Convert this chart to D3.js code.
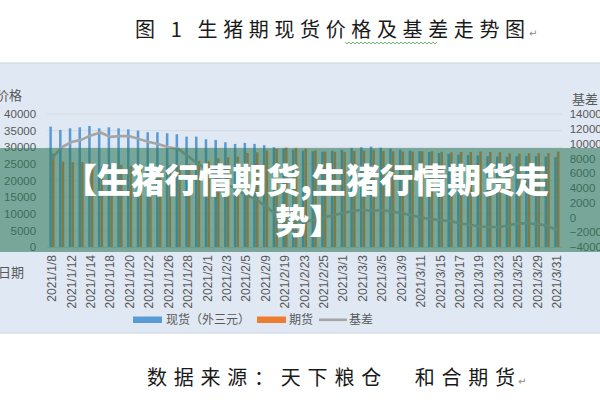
<!DOCTYPE html>
<html>
<head>
<meta charset="utf-8">
<script src="https://cdn.jsdelivr.net/npm/d3@7/dist/d3.min.js"></script>
<style>
  html, body { margin: 0; padding: 0; background: #ffffff; }
  svg { display: block; }
</style>
</head>
<body>
<svg id="chart" width="600" height="400"></svg>
<script>
// ---------- data ----------
const dates = ["2021/1/8","2021/1/11","2021/1/12","2021/1/13","2021/1/14","2021/1/15","2021/1/18","2021/1/19","2021/1/20","2021/1/21",
  "2021/1/22","2021/1/25","2021/1/26","2021/1/27","2021/1/28","2021/1/29","2021/2/1","2021/2/2","2021/2/3","2021/2/4",
  "2021/2/5","2021/2/8","2021/2/9","2021/2/18","2021/2/19","2021/2/22","2021/2/23","2021/2/24","2021/2/25","2021/2/26",
  "2021/3/1","2021/3/2","2021/3/3","2021/3/4","2021/3/5","2021/3/8","2021/3/9","2021/3/10","2021/3/11","2021/3/12",
  "2021/3/15","2021/3/16","2021/3/17","2021/3/18","2021/3/19","2021/3/22","2021/3/23","2021/3/24","2021/3/25","2021/3/26",
  "2021/3/29","2021/3/30","2021/3/31"];
const spot = [36200,35200,35700,36000,36400,35700,36000,35700,35400,35000,
  34500,34500,34200,33900,33200,33200,32400,32200,31500,31000,
  31300,31000,30600,30000,29700,29300,29000,28800,28700,28900,
  29200,29800,30000,30200,29900,29600,29300,29000,28800,28600,
  28300,28000,27800,27600,27500,27300,27200,27100,27300,27400,
  27300,27200,27000];
const futures = [28100,25700,25500,25500,25200,24200,25100,24700,24400,24400,
  24300,24600,24700,24600,24900,25900,25900,26700,27000,27200,
  28300,28500,29100,29500,29900,29800,29600,29100,28700,28600,
  28600,28900,29000,29300,28900,28800,28700,28700,28800,28800,
  28650,28500,28600,28600,28700,28600,28500,28200,28100,28200,
  28200,28300,28700];
const basis = [8000,9500,10200,10500,11100,11500,10900,11000,11000,10600,
  10200,9900,9500,9300,8300,7300,6500,5500,4500,3800,
  3000,2500,1500,500,-200,-500,-600,-300,0,300,
  600,900,1000,900,1000,800,600,300,0,-200,
  -350,-500,-800,-1000,-1200,-1300,-1300,-1100,-800,-800,
  -900,-1100,-1700];
const leftTicks = [0,5000,10000,15000,20000,25000,30000,35000,40000];
const rightTicks = [-4000,-2000,0,2000,4000,6000,8000,10000,12000,14000];
const seriesNames = ["现货（外三元）","期货","基差"];
const titleText = "图 1 生猪期现货价格及基差走势图";
const sourceText = "数据来源：天下粮仓　和合期货";
const bannerLines = ["【生猪行情期货,生猪行情期货走", "势】"];

// ---------- layout ----------
const svg = d3.select("#chart");
const colors = { spot: "#5b9bd5", fut: "#ed7d31", basis: "#a5a5a5", text: "#595959" };
const plot = { left: 47.1, right: 561.7, top: 114, bottom: 247 };

svg.append("rect").attr("x", 0).attr("y", 0).attr("width", 600).attr("height", 400).attr("fill", "#ffffff");
svg.append("rect").attr("x", -1).attr("y", 63).attr("width", 602).attr("height", 270)
  .attr("fill", "#dfe8f3").attr("stroke", "#c9d4e2").attr("stroke-width", 1);

const x = d3.scaleBand().domain(dates).range([plot.left, plot.right]).paddingInner(0).paddingOuter(0);
const yL = d3.scaleLinear().domain([0, 40000]).range([plot.bottom, plot.top]);
const yR = d3.scaleLinear().domain([-4000, 14000]).range([plot.bottom, plot.top]);
const sub = d3.scaleBand().domain(["spot","fut"]).range([-2.6, 2.6]).paddingInner(0.05);

// gridlines
svg.append("g").selectAll("line").data(leftTicks.slice(1)).join("line")
  .attr("x1", plot.left).attr("x2", plot.right)
  .attr("y1", d => yL(d)).attr("y2", d => yL(d))
  .attr("stroke", "#d6dbe2").attr("stroke-width", 1);

// left axis
const axL = svg.append("g").attr("transform", `translate(${plot.left - 8},0)`)
  .call(d3.axisLeft(yL).tickValues(leftTicks).tickSize(0).tickPadding(3).tickFormat(d3.format("d")));
axL.select(".domain").remove();
axL.selectAll("text").attr("fill", colors.text).attr("font-size", "11.5px").attr("font-family", "Liberation Sans, Arial, sans-serif");

// right axis
const axR = svg.append("g").attr("transform", `translate(${plot.right + 5},0)`)
  .call(d3.axisRight(yR).tickValues(rightTicks).tickSize(0).tickPadding(3).tickFormat(d3.format("d")));
axR.select(".domain").remove();
axR.selectAll("text").attr("fill", colors.text).attr("font-size", "11.5px").attr("font-family", "Liberation Sans, Arial, sans-serif");

// bars
const bars = svg.append("g");
bars.selectAll("rect.spot").data(dates).join("rect").attr("class", "spot")
  .attr("x", d => x(d) + x.bandwidth() / 2 + sub("spot"))
  .attr("width", sub.bandwidth())
  .attr("y", (d, i) => yL(spot[i]))
  .attr("height", (d, i) => yL(0) - yL(spot[i]))
  .attr("fill", colors.spot);
bars.selectAll("rect.fut").data(dates).join("rect").attr("class", "fut")
  .attr("x", d => x(d) + x.bandwidth() / 2 + sub("fut"))
  .attr("width", sub.bandwidth())
  .attr("y", (d, i) => yL(futures[i]))
  .attr("height", (d, i) => yL(0) - yL(futures[i]))
  .attr("fill", colors.fut);

svg.append("line").attr("x1", plot.left).attr("x2", plot.right)
  .attr("y1", yL(0) + 0.5).attr("y2", yL(0) + 0.5).attr("stroke", "#c8cdd4");

// basis line
const line = d3.line().x((d, i) => x(dates[i]) + x.bandwidth() / 2).y(d => yR(d));
svg.append("path").datum(basis).attr("d", line)
  .attr("fill", "none").attr("stroke", colors.basis).attr("stroke-width", 2.6).attr("stroke-linejoin", "round");

// x tick labels (every other category)
const axB = svg.append("g").attr("transform", `translate(0,${plot.bottom + 8})`)
  .call(d3.axisBottom(x).tickValues(dates.filter((d, i) => i % 2 === 0)).tickSize(0).tickPadding(0));
axB.select(".domain").remove();
axB.selectAll("text")
  .attr("transform", "rotate(-90)")
  .attr("text-anchor", "end").attr("dy", "0.35em").attr("dx", "0").attr("x", 0).attr("y", 0)
  .attr("fill", colors.text).attr("font-size", "12px").attr("font-family", "Liberation Sans, Arial, sans-serif");

// axis titles
const cjk = "'Noto Sans CJK SC', 'Noto Sans', sans-serif";
svg.append("text").attr("x", -4).attr("y", 100).text("价格")
  .attr("fill", colors.text).attr("font-size", "13px").attr("font-family", cjk);
svg.append("text").attr("x", 572).attr("y", 104).text("基差")
  .attr("fill", colors.text).attr("font-size", "13px").attr("font-family", cjk);
svg.append("text").attr("x", -2).attr("y", 277).text("日期")
  .attr("fill", colors.text).attr("font-size", "13px").attr("font-family", cjk);

// legend
const lg = svg.append("g").attr("font-family", cjk).attr("font-size", "12px").attr("fill", colors.text);
lg.append("rect").attr("x", 133).attr("y", 316.5).attr("width", 29).attr("height", 6.5).attr("fill", colors.spot);
lg.append("text").attr("x", 166).attr("y", 324).text(seriesNames[0]);
lg.append("rect").attr("x", 257).attr("y", 316.5).attr("width", 29).attr("height", 6.5).attr("fill", colors.fut);
lg.append("text").attr("x", 289).attr("y", 324).text(seriesNames[1]);
lg.append("line").attr("x1", 319).attr("x2", 347).attr("y1", 319.8).attr("y2", 319.8).attr("stroke", colors.basis).attr("stroke-width", 2.6);
lg.append("text").attr("x", 349).attr("y", 324).text(seriesNames[2]);

// title & source
svg.append("text").attr("x", 135).attr("y", 37).text(titleText)
  .attr("font-family", cjk).attr("font-size", "20px").attr("fill", "#1a1a1a")
  .attr("textLength", 390).attr("lengthAdjust", "spacing");
svg.append("text").attr("x", 529).attr("y", 37).text("↵")
  .attr("font-family", "DejaVu Sans").attr("font-size", "10px").attr("fill", "#888");
const wave = d3.range(0, 93, 2).map((d, i) => [345 + d, 43 + (i % 2 ? 1 : -1)]);
svg.append("path").attr("d", d3.line()(wave)).attr("fill", "none").attr("stroke", "#5fb35f").attr("stroke-width", 0.9);

svg.append("text").attr("x", 147).attr("y", 385).text(sourceText)
  .attr("font-family", cjk).attr("font-size", "20px").attr("fill", "#1a1a1a")
  .attr("textLength", 368).attr("lengthAdjust", "spacing");
svg.append("text").attr("x", 518).attr("y", 385).text("↵")
  .attr("font-family", "DejaVu Sans").attr("font-size", "10px").attr("fill", "#888");

// overlay banner
svg.append("rect").attr("x", 0).attr("y", 148).attr("width", 600).attr("height", 104)
  .attr("fill", "rgb(45,120,88)").attr("fill-opacity", 0.58);
svg.append("text").attr("x", 63).attr("y", 193).attr("text-anchor", "start").text(bannerLines[0])
  .attr("font-family", cjk).attr("font-weight", 900).attr("font-size", "34px").attr("fill", "#ffffff")
  .attr("textLength", 486).attr("lengthAdjust", "spacing");
svg.append("text").attr("x", 309).attr("y", 234).attr("text-anchor", "middle").text(bannerLines[1])
  .attr("font-family", cjk).attr("font-weight", 900).attr("font-size", "34px").attr("fill", "#ffffff");
</script>
</body>
</html>
